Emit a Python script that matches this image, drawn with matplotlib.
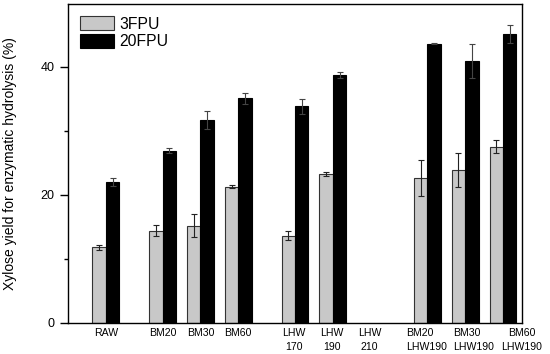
import matplotlib
matplotlib.use("Agg")
import matplotlib.pyplot as plt
import matplotlib.transforms as mtransforms
from matplotlib.ticker import MultipleLocator
import numpy as np

plt.rcParams['font.family'] = ['Liberation Sans', 'DejaVu Sans']

categories = ["RAW", "BM20", "BM30", "BM60", "LHW\n170", "LHW\n190", "LHW\n210",
              "BM20\nLHW190", "BM30\nLHW190", "BM60\nLHW190"]
positions = [0, 1.5, 2.5, 3.5, 5, 6, 7, 8.5, 9.5, 10.5]
fpu3 = [11.8, 14.4, 15.2, 21.3, 13.65, 23.3, 0, 22.6, 23.9, 27.5]
fpu3_err = [0.4, 0.85, 1.8, 0.2, 0.7, 0.35, 0, 2.8, 2.7, 1.0]
fpu20 = [22.0, 26.9, 31.7, 35.05, 33.8, 38.75, 0, 43.6, 40.9, 45.05]
fpu20_err = [0.6, 0.35, 1.4, 0.9, 1.2, 0.5, 0, 0.1, 2.6, 1.4]

# label placement (layout only)
label_x = [0, 1.5, 2.5, 3.5, 4.97, 5.97, 6.97, 8.48, 9.73, 11.0]
label_align = ['center'] * 7 + ['left', 'left', 'center']

fig = plt.figure(figsize=(5.5, 3.54), dpi=100)
ax = fig.add_axes([0.1236, 0.0876, 0.8254, 0.9011])

x = np.array(positions)
w = 0.355
mask = np.array(fpu3) > 0
ax.bar(x[mask] - w/2, np.array(fpu3)[mask], w, color='#c8c8c8', edgecolor='#333333',
       linewidth=0.8, label='3FPU', yerr=np.array(fpu3_err)[mask], capsize=2,
       error_kw=dict(ecolor='#222222', elinewidth=0.8, capthick=0.8))
ax.bar(x[mask] + w/2, np.array(fpu20)[mask], w, color='black', edgecolor='black',
       linewidth=0.8, label='20FPU', yerr=np.array(fpu20_err)[mask], capsize=2,
       error_kw=dict(ecolor='#444444', elinewidth=0.8, capthick=0.8))

ax.set_xlim(-1, 11)
ax.set_ylim(0, 49.8)
ax.set_yticks([0, 20, 40])
ax.yaxis.set_minor_locator(MultipleLocator(10))
ax.set_xticks([])
ax.tick_params(axis='y', which='major', length=6, width=1, labelsize=9, direction='out')
ax.tick_params(axis='y', which='minor', length=3, width=1, direction='out')
ax.set_ylabel('Xylose yield for enzymatic hydrolysis (%)', fontsize=10, labelpad=17)
for s in ax.spines.values():
    s.set_linewidth(1.0)

trans = mtransforms.blended_transform_factory(ax.transData, ax.transAxes)
for lx, lab, al in zip(label_x, categories, label_align):
    ax.text(lx, -0.017, lab, transform=trans, ha='center', va='top',
            multialignment=al, fontsize=7.6, linespacing=1.45)

ax.legend(loc='upper left', frameon=False, fontsize=11.3, handlelength=2.2,
          handleheight=1.0, labelspacing=0.15, handletextpad=0.3,
          borderpad=0, borderaxespad=0, bbox_to_anchor=(0.026, 0.962))

fig.savefig('out.png', dpi=100)
